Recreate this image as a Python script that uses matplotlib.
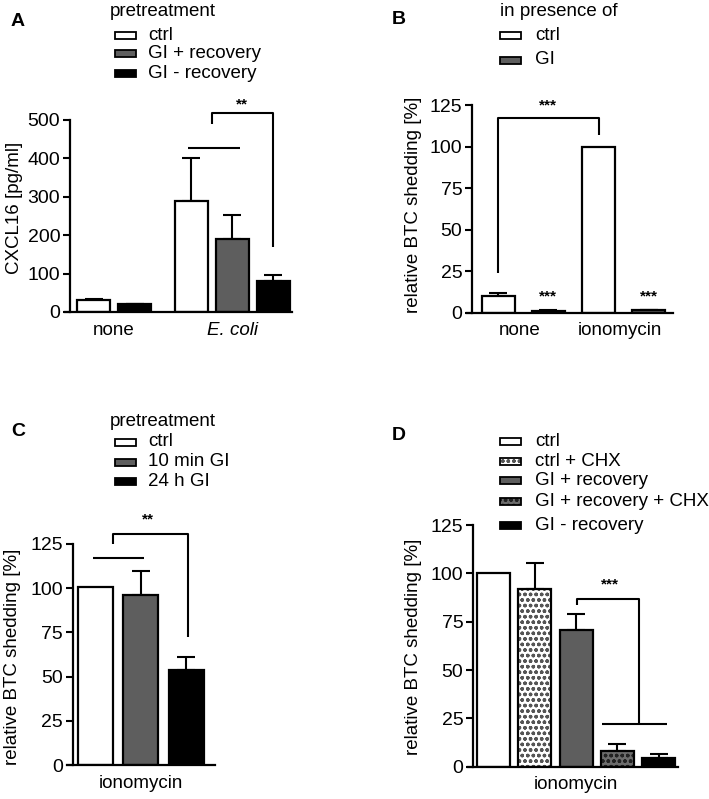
import matplotlib
matplotlib.use("Agg")
import matplotlib.pyplot as plt
from matplotlib.patches import Rectangle

# ---- data ----
A_groups = ["none", "E. coli"]
A_none = [31, 20]            # ctrl, GI - recovery
A_none_err = [3, 2]
A_ecoli = [289, 191, 81]     # ctrl, GI + recovery, GI - recovery
A_ecoli_err = [112, 62, 15]
A_legend = ["ctrl", "GI + recovery", "GI - recovery"]

B_groups = ["none", "ionomycin"]
B_ctrl = [10, 100]
B_ctrl_err = [1.7, 0]
B_gi = [1.2, 1.5]
B_gi_err = [0.3, 0.4]
B_legend = ["ctrl", "GI"]

C_group = "ionomycin"
C_vals = [100.5, 96, 54]
C_err = [0, 14, 7]
C_legend = ["ctrl", "10 min GI", "24 h GI"]

D_group = "ionomycin"
D_vals = [100, 92, 70.7, 8.3, 4.3]
D_err = [0, 13.6, 8.1, 3.4, 2.1]
D_legend = ["ctrl", "ctrl + CHX", "GI + recovery", "GI + recovery + CHX", "GI - recovery"]

W, H = 709, 799
GRAY = "#5e5e5e"
DGRAY = "#6c6c6c"

plt.rcParams.update({"font.family": ["Liberation Sans", "DejaVu Sans"], "font.size": 13,
                     "axes.linewidth": 1.6, "hatch.linewidth": 1.0})
fig = plt.figure(figsize=(W / 100, H / 100), dpi=100, facecolor="white")

def fx(x): return x / W
def fy(y): return 1 - y / H

def mkax(l, r, t, b, xlim, ylim, yticks):
    ax = fig.add_axes([fx(l), fy(b), (r - l) / W, (b - t) / H])
    ax.set_xlim(*xlim); ax.set_ylim(*ylim)
    for s in ("top", "right"): ax.spines[s].set_visible(False)
    # x axis runs a few pixels left of the y axis
    unit = (r - l) / (xlim[1] - xlim[0])
    ax.spines["bottom"].set_bounds(xlim[0] - 5.5 / unit, xlim[1])
    ax.set_yticks(yticks)
    ax.tick_params(axis="y", length=5, width=1.5, pad=2, labelsize=14)
    ax.tick_params(axis="x", length=0, pad=7, labelsize=13.5)
    return ax

def bar(ax, x, h, err, w, style):
    if style == "white":
        ax.bar(x, h, w, color="white", edgecolor="black", lw=1.6, zorder=2)
    elif style == "gray":
        ax.bar(x, h, w, color=GRAY, edgecolor="black", lw=1.6, zorder=2)
    elif style == "black":
        ax.bar(x, h, w, color="black", edgecolor="black", lw=1.6, zorder=2)
    elif style == "whitehatch":
        ax.bar(x, h, w, color="white", edgecolor="#555555", hatch="ooo", lw=0, zorder=2)
        ax.bar(x, h, w, fill=False, edgecolor="black", lw=1.6, zorder=3)
    elif style == "grayhatch":
        ax.bar(x, h, w, color=DGRAY, edgecolor="#222222", hatch="ooo", lw=0, zorder=2)
        ax.bar(x, h, w, fill=False, edgecolor="black", lw=1.6, zorder=3)
    if err > 0:
        ax.errorbar(x, h, yerr=[[0], [err]], fmt="none", ecolor="black", elinewidth=1.5,
                    capsize=6.5, capthick=1.5, zorder=1)

def line(ax, xs, ys):
    ax.plot(xs, ys, color="black", lw=1.5, clip_on=False, solid_capstyle="butt")

def stars(ax, x, y, s):
    ax.text(x, y, s, ha="center", va="center", fontsize=11, fontweight="bold", clip_on=False)

def legend(title, tx, ty, labels, styles, ys, px=115, lx=148):
    if title:
        fig.text(fx(tx), fy(ty), title, ha="left", va="center", fontsize=13.5)
    for lab, st, y in zip(labels, styles, ys):
        kw = dict(transform=fig.transFigure, lw=1.3, edgecolor="black")
        r = (fx(px), fy(y + 3.5)), 21 / W, 7 / H
        if st == "white":
            fig.add_artist(Rectangle(*r, facecolor="white", **kw))
        elif st == "gray":
            fig.add_artist(Rectangle(*r, facecolor=GRAY, **kw))
        elif st == "black":
            fig.add_artist(Rectangle(*r, facecolor="black", **kw))
        elif st == "whitehatch":
            fig.add_artist(Rectangle(*r, facecolor="white", hatch="ooo", transform=fig.transFigure,
                                     lw=0, edgecolor="#555555"))
            fig.add_artist(Rectangle(*r, fill=False, **kw))
        elif st == "grayhatch":
            fig.add_artist(Rectangle(*r, facecolor=DGRAY, hatch="ooo", transform=fig.transFigure,
                                     lw=0, edgecolor="#222222"))
            fig.add_artist(Rectangle(*r, fill=False, **kw))
        fig.text(fx(lx), fy(y), lab, ha="left", va="center", fontsize=13.5)

def ylab(x, y, s):
    fig.text(fx(x), fy(y), s, rotation=90, ha="center", va="center", fontsize=13.5)

def letter(x, y, s):
    fig.text(fx(x), fy(y), s, ha="center", va="center", fontsize=14, fontweight="bold")

# ---- A ----
ax = mkax(70, 292, 120, 312, (-0.573, 4.84), (0, 500), range(0, 501, 100))
posA_none = [0, 1]
posA_ecoli = [2.38, 3.38, 4.38]
for p, v, e, st in zip(posA_none, A_none, A_none_err, ["white", "black"]):
    bar(ax, p, v, e, 0.8, st)
for p, v, e, st in zip(posA_ecoli, A_ecoli, A_ecoli_err, ["white", "gray", "black"]):
    bar(ax, p, v, e, 0.8, st)
ax.set_xticks([0.5, 3.38])
ax.set_xticklabels(A_groups)
ax.get_xticklabels()[1].set_style("italic")
line(ax, [2.30, 3.57], [428, 428])
line(ax, [2.89, 2.89, 4.38, 4.38], [490, 518, 518, 169])
stars(ax, 3.63, 540, "**")
ylab(15, 208, "CXCL16 [pg/ml]")
letter(18, 22, "A")
legend("pretreatment", 110, 12, A_legend, ["white", "gray", "black"], [35, 53.5, 73.5])

# ---- B ----
ax = mkax(472, 673, 105, 312.7, (-0.52, 3.48), (0, 125), range(0, 126, 25))
for i in range(2):
    bar(ax, 2 * i, B_ctrl[i], B_ctrl_err[i], 0.66, "white")
    bar(ax, 2 * i + 1, B_gi[i], B_gi_err[i], 0.66, "gray")
    stars(ax, 2 * i + 1, 9.5, "***")
ax.set_xticks([0.42, 2.42])
ax.set_xticklabels(B_groups)
line(ax, [0, 0, 2, 2], [24, 117, 117, 107])
stars(ax, 1, 125, "***")
ylab(414, 205, "relative BTC shedding [%]")
letter(399, 20, "B")
legend("in presence of", 500, 12, B_legend, ["white", "gray"], [35, 60], px=500, lx=535)

# ---- C ----
ax = mkax(72.7, 215, 544, 765, (-0.5, 2.63), (0, 125), range(0, 126, 25))
for i, (v, e, st) in enumerate(zip(C_vals, C_err, ["white", "gray", "black"])):
    bar(ax, i, v, e, 0.77, st)
ax.set_xticks([1])
ax.set_xticklabels([C_group])
line(ax, [-0.05, 1.07], [117, 117])
line(ax, [0.385, 0.385, 2.03, 2.03], [125, 130.6, 130.6, 72.6])
stars(ax, 1.15, 139, "**")
ylab(13, 657, "relative BTC shedding [%]")
letter(18, 432, "C")
legend("pretreatment", 110, 422, C_legend, ["white", "gray", "black"], [442, 462, 481.5])

# ---- D ----
ax = mkax(473, 678, 525, 766.7, (-0.5, 4.47), (0, 125), range(0, 126, 25))
D_styles = ["white", "whitehatch", "gray", "grayhatch", "black"]
for i, (v, e, st) in enumerate(zip(D_vals, D_err, D_styles)):
    bar(ax, i, v, e, 0.8, st)
ax.set_xticks([2])
ax.set_xticklabels([D_group])
line(ax, [2.02, 2.02, 3.53, 3.53], [83.6, 86.6, 86.6, 22])
line(ax, [2.62, 4.2], [22, 22])
stars(ax, 2.82, 94.5, "***")
ylab(413, 647, "relative BTC shedding [%]")
letter(399, 435, "D")
legend(None, 0, 0, D_legend, D_styles, [441.7, 461.7, 480.5, 501.5, 525], px=500, lx=535)

fig.savefig("out.png", dpi=100, facecolor="white")
